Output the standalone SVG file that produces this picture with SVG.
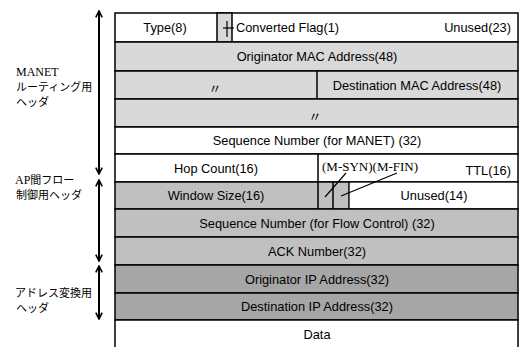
<svg xmlns="http://www.w3.org/2000/svg" width="520" height="347" viewBox="0 0 520 347">
  <style>
    .cell { stroke: #000; stroke-width: 1.5; }
    .w { fill: #ffffff; }
    .g1 { fill: #d9d9d9; }
    .g2 { fill: #c0c0c0; }
    .g3 { fill: #a6a6a6; }
    .t { font-family: "Liberation Sans", Arial, sans-serif; font-size: 12.8px; fill: #000; }
    .m { text-anchor: middle; }
    .e { text-anchor: end; }
    .serif { font-family: "Liberation Serif", "Times New Roman", serif; font-size: 12px; fill: #000; }
    .flag { font-family: "Liberation Serif", "Times New Roman", serif; font-size: 13px; fill: #000; }
    .jp { font-family: "Noto Sans CJK JP", sans-serif; font-size: 11px; fill: #000; }
    .ditto { font-family: "Noto Sans CJK JP", sans-serif; font-size: 13px; fill: #000; }
    .lead { stroke: #000; stroke-width: 1.2; fill: none; }
    .arr { stroke: #000; stroke-width: 2; fill: none; marker-start: url(#head); marker-end: url(#head); }
  </style>
  <defs>
    <marker id="head" viewBox="0 0 10 10" refX="9" refY="5" markerWidth="4" markerHeight="4" orient="auto-start-reverse" markerUnits="strokeWidth">
      <path d="M1,1 L9,5 L1,9" fill="none" stroke="#000" stroke-width="2"/>
    </marker>
  </defs>

  <!-- header fields, one row per 32-bit word -->
  <g id="row-type">
    <rect class="cell w" x="115" y="13" width="403" height="29"/>
    <rect class="cell g1" x="217" y="13" width="15" height="29"/>
    <text class="t m" x="165" y="32">Type(8)</text>
    <text class="t" x="236" y="32">Converted Flag(1)</text>
    <text class="t e" x="511" y="32">Unused(23)</text>
  </g>
  <g id="row-orig-mac">
    <rect class="cell g1" x="115" y="42" width="403" height="29"/>
    <text class="t m" x="317" y="61">Originator MAC Address(48)</text>
  </g>
  <g id="row-dest-mac">
    <rect class="cell g1" x="115" y="71" width="403" height="28"/>
    <line class="cell" x1="317" y1="71" x2="317" y2="99"/>
    <text class="ditto m" x="215" y="93">〃</text>
    <text class="t m" x="417" y="90">Destination MAC Address(48)</text>
  </g>
  <g id="row-dest-mac-2">
    <rect class="cell g1" x="115" y="99" width="403" height="28"/>
    <text class="ditto m" x="315" y="121">〃</text>
  </g>
  <g id="row-seq-manet">
    <rect class="cell w" x="115" y="127" width="403" height="27"/>
    <text class="t m" x="317" y="145">Sequence Number (for MANET) (32)</text>
  </g>
  <g id="row-hop-ttl">
    <rect class="cell w" x="115" y="154" width="403" height="28"/>
    <line class="cell" x1="318" y1="154" x2="318" y2="182"/>
    <text class="t m" x="216" y="173">Hop Count(16)</text>
    <text class="flag" x="322" y="171">(M-SYN)(M-FIN)</text>
    <text class="t e" x="511" y="175">TTL(16)</text>
  </g>
  <g id="row-window">
    <rect class="cell g2" x="115" y="182" width="403" height="27"/>
    <line class="cell" x1="318" y1="182" x2="318" y2="209"/>
    <line class="cell" x1="333" y1="182" x2="333" y2="209"/>
    <line class="cell" x1="349" y1="182" x2="349" y2="209"/>
    <rect class="w" x="349.8" y="182.8" width="167.4" height="25.4"/>
    <text class="t m" x="216" y="200">Window Size(16)</text>
    <text class="t m" x="434" y="200">Unused(14)</text>
  </g>
  <g id="row-seq-flow">
    <rect class="cell g2" x="115" y="209" width="403" height="28"/>
    <text class="t m" x="317" y="228">Sequence Number (for Flow Control) (32)</text>
  </g>
  <g id="row-ack">
    <rect class="cell g2" x="115" y="237" width="403" height="28"/>
    <text class="t m" x="317" y="256">ACK Number(32)</text>
  </g>
  <g id="row-orig-ip">
    <rect class="cell g3" x="115" y="265" width="403" height="28"/>
    <text class="t m" x="317" y="284">Originator IP Address(32)</text>
  </g>
  <g id="row-dest-ip">
    <rect class="cell g3" x="115" y="293" width="403" height="27"/>
    <text class="t m" x="317" y="311">Destination IP Address(32)</text>
  </g>
  <g id="row-data">
    <rect class="cell w" x="115" y="320" width="403" height="40"/>
    <text class="t m" x="317" y="339">Data</text>
  </g>

  <!-- section labels -->
  <g id="label-manet">
    <text class="serif" x="16" y="76">MANET</text>
    <text class="jp" x="16" y="91">ルーティング用</text>
    <text class="jp" x="16" y="106">ヘッダ</text>
  </g>
  <g id="label-flow">
    <text class="jp" x="15" y="184"><tspan class="serif">AP</tspan>間フロー</text>
    <text class="jp" x="16" y="199">制御用ヘッダ</text>
  </g>
  <g id="label-address">
    <text class="jp" x="15" y="297">アドレス変換用</text>
    <text class="jp" x="16" y="312">ヘッダ</text>
  </g>

  <!-- connectors: section spans and flag leaders -->
  <g id="connectors">
    <line class="arr" x1="99" y1="11" x2="99" y2="174"/>
    <line class="arr" x1="99" y1="180" x2="99" y2="261"/>
    <line class="arr" x1="99" y1="266" x2="99" y2="319"/>
    <line class="lead" x1="227" y1="21" x2="227" y2="37"/>
    <line class="lead" x1="223" y1="28" x2="234" y2="28"/>
    <line class="lead" x1="346" y1="173" x2="325" y2="197"/>
    <line class="lead" x1="397" y1="173" x2="341" y2="196"/>
  </g>
</svg>
